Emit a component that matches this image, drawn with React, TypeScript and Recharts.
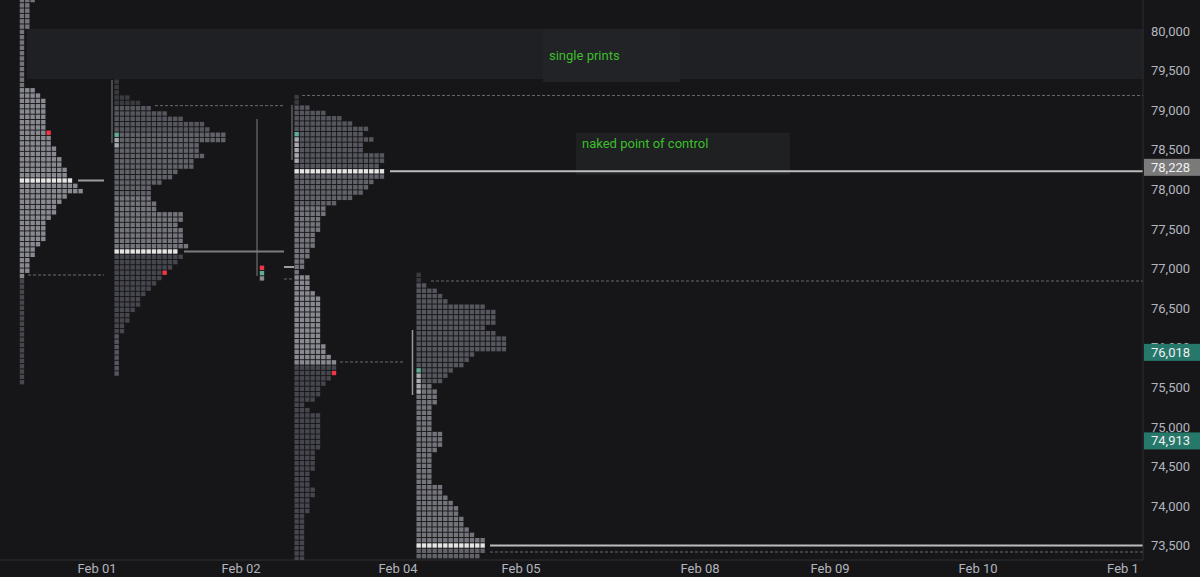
import React from "react";
import {
  ComposedChart,
  Scatter,
  XAxis,
  YAxis,
  ReferenceArea,
  ReferenceLine,
  ReferenceDot,
} from "recharts";

// TPO grid: one row = 67 price units, one column = 5.33 session units
const ROW = 67;
const COL = 5.33;

const priceTicks = [73500, 74000, 74500, 75000, 75500, 76000, 76500, 77000, 77500, 78000, 78500, 79000, 79500, 80000];
const dateTicks = [97, 241, 398, 521, 700, 830, 978, 1123];
const dateLabels = ["Feb 01", "Feb 02", "Feb 04", "Feb 05", "Feb 08", "Feb 09", "Feb 10", "Feb 1"];

const palette: Record<string, string> = {
  a: "#3a3b41",
  b: "#45464e",
  c: "#55565e",
  d: "#62636a",
  e: "#74757c",
  f: "#898a91",
  l: "#a9aab0",
  p: "#e4e4e4",
  r: "#f23645",
  t: "#5fae95",
  g: "#8a8b92",
};

// row widths (TPO count per price level), top row first
const p1Widths = [
  3, 2, 2, 2, 2, 2, 1, 1, 1, 1, 1, 1, 1, 1, 1, 1, 1, 3, 4, 5, 5, 5, 5, 5, 5, 6, 6, 6, 7, 7, 8, 8, 9, 9,
  10, 11, 12, 9, 8, 7, 7, 6, 5, 5, 5, 5, 4, 3, 3, 2, 2, 2, 1,
  1, 1, 1, 1, 1, 1, 1, 1, 1, 1, 1, 1, 1, 1, 1, 1, 1, 1, 1, 1,
];
const p1Tones: [string, number][] = [["e", 17], ["f", 17], ["p", 1], ["f", 18], ["b", 20]];

const p2Widths = [
  1, 1, 1, 3, 5, 7, 10, 13, 17, 18, 21, 21, 16, 16, 17, 15, 15, 12, 11, 9, 7, 7, 7, 8, 8, 13, 13, 12, 13, 13, 13, 14,
  12, 13, 12, 11, 10, 9, 8, 7, 6, 5, 5, 4, 3, 3, 2, 2, 1, 1, 1, 1, 1, 1, 1, 1,
];
const p2Tones: [string, number][] = [["a", 5], ["c", 5], ["d", 12], ["e", 10], ["p", 1], ["b", 15], ["c", 8]];

const p3Widths = [
  1, 1, 3, 6, 9, 11, 14, 13, 15, 13, 13, 17, 17, 16, 17, 17, 15, 14, 13, 11, 8, 6, 6, 5, 5, 5, 4, 4, 4, 3, 3, 2, 2, 1,
  3, 3, 3, 4, 5, 5, 5, 5, 5, 5, 5, 5, 5, 6, 6, 7, 8, 8, 8, 7, 6, 5, 5, 4, 2, 3,
  5, 5, 5, 5, 5, 5, 5, 4, 4, 4, 4, 3, 3, 3, 4, 4, 3, 3, 3, 2, 2, 2, 2, 2, 2, 2, 2, 2,
];
const p3Tones: [string, number][] = [["a", 2], ["c", 12], ["p", 1], ["d", 6], ["e", 13], ["f", 17], ["b", 37]];

const p4Widths = [
  1, 1, 2, 4, 5, 6, 13, 15, 15, 15, 13, 15, 17, 17, 17, 11, 10, 9, 7, 6, 5, 3, 4, 4, 4, 3, 3, 3, 3, 3,
  5, 5, 5, 4, 3, 3, 3, 3, 3, 3, 5, 5, 6, 7, 8, 8, 9, 9, 10, 11, 13, 13, 13, 12,
];
const p4Tones: [string, number][] = [["a", 2], ["c", 19], ["e", 30], ["p", 1], ["d", 2]];

const p5Widths = [1, 1, 1];
const p5Tones: [string, number][] = [["r", 1], ["t", 1], ["g", 1]];

type Mark = { row: number; col: number; tone: string };
const profiles = [
  { x0: 19.3, poc: 78112, pocRow: 34, widths: p1Widths, tones: p1Tones, marks: [{ row: 25, col: 5, tone: "r" }] as Mark[] },
  {
    x0: 114, poc: 77216, pocRow: 32, widths: p2Widths, tones: p2Tones,
    marks: [{ row: 10, col: 0, tone: "t" }, { row: 11, col: 0, tone: "l" }, { row: 12, col: 0, tone: "l" }, { row: 36, col: 9, tone: "r" }] as Mark[],
  },
  {
    x0: 294, poc: 78228, pocRow: 14, widths: p3Widths, tones: p3Tones,
    marks: [
      { row: 7, col: 0, tone: "t" }, { row: 8, col: 0, tone: "l" }, { row: 9, col: 0, tone: "l" },
      { row: 10, col: 0, tone: "l" }, { row: 11, col: 0, tone: "l" }, { row: 12, col: 0, tone: "l" },
      { row: 52, col: 7, tone: "r" },
    ] as Mark[],
  },
  {
    x0: 416, poc: 73504, pocRow: 51, widths: p4Widths, tones: p4Tones,
    marks: [{ row: 18, col: 0, tone: "t" }, { row: 19, col: 0, tone: "l" }, { row: 20, col: 0, tone: "l" }, { row: 21, col: 0, tone: "l" }, { row: 22, col: 0, tone: "l" }] as Mark[],
  },
  { x0: 259.3, poc: 77010, pocRow: 0, widths: p5Widths, tones: p5Tones, marks: [] as Mark[] },
];

// level lines: POC extensions (solid) and value area edges (dashed)
const pocLines = [
  { x1: 78, x2: 104, y: 78112, color: "#9d9d9d" },
  { x1: 184, x2: 284, y: 77216, color: "#7c7c7c" },
  { x1: 284, x2: 294, y: 77020, color: "#9d9d9d" },
  { x1: 390, x2: 1143, y: 78228, color: "#bdbdbd" },
  { x1: 490, x2: 1143, y: 73504, color: "#bdbdbd" },
];
const valueLines = [
  { x1: 28, x2: 104, y: 76919 },
  { x1: 155, x2: 284, y: 79057 },
  { x1: 284, x2: 294, y: 76869 },
  { x1: 302, x2: 1143, y: 79186 },
  { x1: 340, x2: 405, y: 75821 },
  { x1: 431, x2: 1143, y: 76843 },
  { x1: 490, x2: 1143, y: 73422 },
];
const rangeLines = [
  { x: 112, y1: 79381, y2: 78586, color: "#5d5d60" },
  { x: 292, y1: 79066, y2: 78371, color: "#5d5d60" },
  { x: 257, y1: 78889, y2: 76907, color: "#5d5d60" },
  { x: 412.5, y1: 76225, y2: 75404, color: "#9a9a9a" },
];
const tagValues = [78228, 76018, 74913];
// tag look: fill and small vertical nudge in px
const tagStyles = [
  { color: "#7a7a7a", dy: -4 },
  { color: "#26786b", dy: 6 },
  { color: "#26786b", dy: 7 },
];

const blocks = profiles.flatMap((p) => {
  const tones = p.tones.flatMap(([t, n]) => Array(n).fill(t) as string[]);
  return p.widths.flatMap((w, i) =>
    Array.from({ length: w }, (_, c) => {
      const m = p.marks.find((k) => k.row === i && k.col === c);
      return {
        x: p.x0 + (c + 0.5) * COL,
        y: p.poc + (p.pocRow - i) * ROW,
        fill: palette[m ? m.tone : tones[i]],
      };
    })
  );
});

const FONT = "Roboto, 'Noto Sans', sans-serif";
const GREEN = "#3cbf2b";

const Block = (props: any) => {
  const { cx, cy, payload } = props;
  return <rect x={cx - 2.2} y={cy - 2.2} width={4.4} height={4.4} fill={payload.fill} />;
};

const DateTick = ({ x, y, payload }: any) => {
  const i = dateTicks.indexOf(payload.value);
  return (
    <text x={x} y={y + 5} textAnchor="middle" fill="#b2b5be" fontSize={13} fontFamily={FONT}>
      {dateLabels[i]}
    </text>
  );
};

const tagShape = (value: number, color: string, dy: number) => (props: any) => {
  const { cx, cy } = props;
  return (
    <g>
      <rect x={cx + 1} y={cy + dy - 8.5} width={57} height={17} fill={color} />
      <text x={cx + 8} y={cy + dy + 4.5} fill="#f0f0f0" fontSize={13} fontFamily={FONT}>
        {value.toLocaleString("en-US")}
      </text>
    </g>
  );
};

export default function App() {
  return (
    <div style={{ position: "fixed", left: 0, top: 0, width: 1200, height: 577, background: "#161618" }}>
      <ComposedChart width={1200} height={577} data={blocks} margin={{ top: 0, right: 0, bottom: 0, left: 0 }}>
        <XAxis
          dataKey="x"
          type="number"
          domain={[0, 1143]}
          ticks={dateTicks}
          height={17}
          tickLine={false}
          axisLine={{ stroke: "#2e2e33" }}
          tick={<DateTick />}
          allowDataOverflow
        />
        <YAxis
          dataKey="y"
          type="number"
          orientation="right"
          domain={[73321, 80391]}
          ticks={priceTicks}
          width={57}
          tickLine={false}
          axisLine={{ stroke: "#2e2e33" }}
          tick={{ fill: "#b2b5be", fontSize: 13, fontFamily: FONT }}
          tickFormatter={(v) => Number(v).toLocaleString("en-US")}
          allowDataOverflow
        />
        <ReferenceArea x1={27} x2={1143} y1={79394} y2={80025} fill="#1f2023" fillOpacity={1} stroke="none" />
        <ReferenceArea
          x1={543}
          x2={680}
          y1={79356}
          y2={80025}
          fill="#222327"
          fillOpacity={1}
          stroke="none"
          label={{ value: "single prints", position: "insideLeft", offset: 6, fill: GREEN, fontSize: 13, fontFamily: FONT }}
        />
        <ReferenceArea
          x1={576}
          x2={790}
          y1={78182}
          y2={78712}
          fill="#1f2022"
          fillOpacity={1}
          stroke="none"
          label={{ value: "naked point of control", position: "insideTopLeft", offset: 6, fill: GREEN, fontSize: 13, fontFamily: FONT }}
        />
        {rangeLines.map((r, i) => (
          <ReferenceLine key={"r" + i} segment={[{ x: r.x, y: r.y1 }, { x: r.x, y: r.y2 }]} stroke={r.color} strokeWidth={1.5} />
        ))}
        <Scatter data={blocks} dataKey="y" shape={<Block />} isAnimationActive={false} />
        {valueLines.map((l, i) => (
          <ReferenceLine key={"v" + i} segment={[{ x: l.x1, y: l.y }, { x: l.x2, y: l.y }]} stroke="#6b6b6e" strokeDasharray="3 2" />
        ))}
        {pocLines.map((l, i) => (
          <ReferenceLine key={"p" + i} segment={[{ x: l.x1, y: l.y }, { x: l.x2, y: l.y }]} stroke={l.color} strokeWidth={2} />
        ))}
        {tagValues.map((v, i) => (
          <ReferenceDot
            key={v}
            x={1143}
            y={v}
            r={0}
            ifOverflow="visible"
            zIndex={3000}
            shape={tagShape(v, tagStyles[i].color, tagStyles[i].dy)}
          />
        ))}
      </ComposedChart>
    </div>
  );
}
